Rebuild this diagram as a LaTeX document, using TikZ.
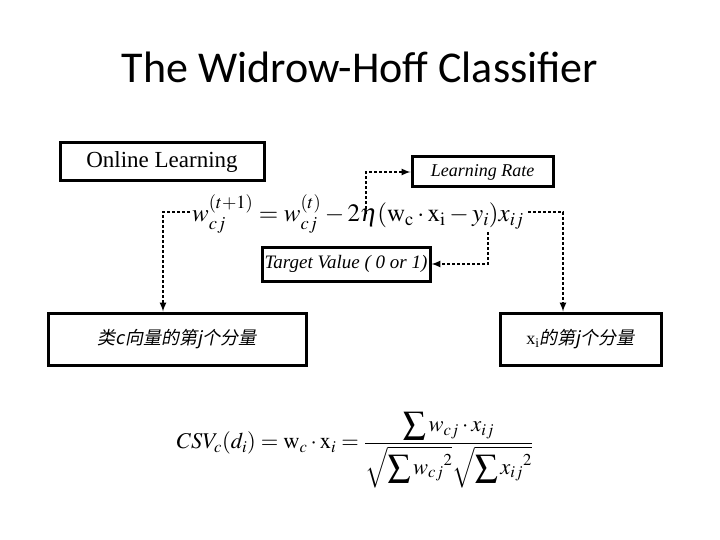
\documentclass[tikz,border=0pt]{standalone}
\usepackage{mathptmx}
\usepackage{fontspec}
\setmainfont{Liberation Serif}
\newfontfamily\titlefont{Carlito}
\newfontfamily\cjkfont[FakeSlant=0.2]{Noto Sans CJK SC}
\begin{document}
\begin{tikzpicture}[
        x=1pt, y=-1pt,
        >=latex,
        box/.style={
            draw=black,
            line width=3pt,
            inner sep=0pt,
            align=center
        },
        link/.style={
            ->,
            line width=2pt,
            dash pattern=on 3pt off 2pt
        }
    ]

    \useasboundingbox (0,0) rectangle (720,540);

    \node[font=\titlefont\fontsize{44}{52}\selectfont] (title) at (360,67)
    {The Widrow-Hoff Classifier};

    \node[box, minimum width=204pt, minimum height=38pt,
          font=\fontsize{23}{27}\selectfont] (online) at (162,162)
    {Online Learning};

    \node[box, minimum width=141pt, minimum height=30pt,
          font=\itshape\fontsize{18}{22}\selectfont] (rate) at (482.5,172)
    {Learning Rate};

    \node[font=\fontsize{25}{29}\selectfont] (update) at (358,214)
    {$w^{(t+1)}_{cj} = w^{(t)}_{cj} - 2\eta(\mathrm{w}_{\mathrm{c}}\cdot\mathrm{x}_{\mathrm{i}} - y_i)x_{ij}$};

    \node[box, minimum width=168pt, minimum height=34pt,
          font=\itshape\fontsize{19}{23}\selectfont] (target) at (346,264)
    {Target Value ( 0 or 1)};

    \node[box, minimum width=258pt, minimum height=52pt,
          font=\cjkfont\fontsize{18}{22}\selectfont] (classc) at (177,339)
    {类c向量的第j个分量};

    \node[box, minimum width=161pt, minimum height=52pt,
          font=\cjkfont\fontsize{18}{22}\selectfont] (xcomp) at (580.5,339)
    {{\rmfamily x\textsubscript{i}}的第j个分量};

    \node[font=\fontsize{22.5}{26}\selectfont] (csv) at (355,450)
    {$\displaystyle CSV_c(d_i) = \mathrm{w}_c\cdot\mathrm{x}_i
      = \frac{\displaystyle\sum w_{cj}\cdot x_{ij}}
             {\sqrt{\displaystyle\sum {w_{cj}}^2}\sqrt{\displaystyle\sum {x_{ij}}^2}}$};

    % points on the update rule
    \coordinate (wleft) at (190,212);
    \coordinate (xright) at (528,212);
    \coordinate (etatop) at (366,214);
    \coordinate (yibot) at (488,232);

    \draw[link] (wleft) -| ([xshift=-14pt]classc.north);
    \draw[link] (xright) -| ([xshift=-17.5pt]xcomp.north);
    \draw[link] (etatop) |- (rate.west);
    \draw[link] (yibot) |- (target.east);

\end{tikzpicture}
\end{document}
